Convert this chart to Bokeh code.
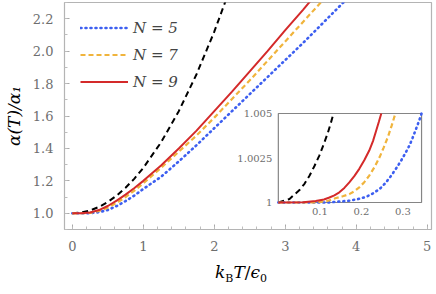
from bokeh.plotting import figure
from bokeh.models import (FixedTicker, Legend, LegendItem, Range1d, Div,
                          CustomJSTickFormatter)
from bokeh.core.properties import value
from bokeh.layouts import column
from bokeh.embed import file_html
from bokeh.resources import INLINE

# ---------------- data ----------------
T_main = [0, 0.125, 0.25, 0.375, 0.5, 0.625, 0.75, 0.875, 1.0, 1.25, 1.5,
          1.75, 2.0, 2.25, 2.5, 2.75, 3.0, 3.25, 3.5, 3.75, 4.0]
v_black = [1.0, 1.0044, 1.0175, 1.039, 1.07, 1.109, 1.1575, 1.214, 1.28,
           1.4375, 1.63, 1.8575, 2.12, 2.4175]
v_N9 = [1.0, 1.0003, 1.0052, 1.02, 1.045, 1.078, 1.115, 1.156, 1.20, 1.295,
        1.40, 1.51, 1.63, 1.75, 1.875, 2.00, 2.13, 2.255, 2.385]
v_N7 = [1.0, 1.0001, 1.0029, 1.014, 1.035, 1.064, 1.10, 1.14, 1.185, 1.28,
        1.38, 1.48, 1.59, 1.705, 1.82, 1.94, 2.06, 2.18, 2.30, 2.42]
v_N5 = [1.0, 1.0, 1.0009, 1.007, 1.02, 1.045, 1.075, 1.11, 1.15, 1.225, 1.32,
        1.42, 1.525, 1.63, 1.735, 1.84, 1.945, 2.05, 2.16, 2.27, 2.38]

# inset (low temperature)
Ti_black = [0, 0.027, 0.051, 0.063, 0.075, 0.087, 0.099, 0.109, 0.119, 0.126,
            0.133]
vi_black = [1.0, 1.0002, 1.0007, 1.00105, 1.0015, 1.00205, 1.00265, 1.00325,
            1.0039, 1.00443, 1.005]
Ti_N9 = [0, 0.06, 0.09, 0.11, 0.123, 0.135, 0.147, 0.159, 0.171, 0.183, 0.195,
         0.207, 0.219, 0.228, 0.236, 0.242, 0.248]
vi_N9 = [1.0, 1.00002, 1.00008, 1.00017, 1.00028, 1.0004, 1.00057, 1.00082,
         1.00113, 1.00148, 1.00189, 1.00237, 1.00292, 1.00345, 1.00406,
         1.00452, 1.005]
Ti_N7 = [0, 0.09, 0.12, 0.139, 0.155, 0.171, 0.183, 0.195, 0.207, 0.219,
         0.232, 0.244, 0.254, 0.264, 0.273, 0.282]
vi_N7 = [1.0, 1.0, 1.0001, 1.00025, 1.00035, 1.00047, 1.00063, 1.00085,
         1.00114, 1.00151, 1.002, 1.00255, 1.0031, 1.00368, 1.00432, 1.005]
Ti_N5 = [0, 0.12, 0.171, 0.192, 0.212, 0.228, 0.244, 0.258, 0.272, 0.284,
         0.296, 0.306, 0.316, 0.324, 0.332, 0.339, 0.345]
vi_N5 = [1.0, 1.0, 1.0001, 1.00019, 1.00032, 1.00051, 1.00076, 1.00109,
         1.00151, 1.00192, 1.00236, 1.00277, 1.00321, 1.00366, 1.00415,
         1.00458, 1.005]

legend_labels = ["N = 5", "N = 7", "N = 9"]

x_ticks = [0, 1, 2, 3, 4, 5]
x_tick_labels = ["0", "1", "2", "3", "4", "5"]
y_ticks = [1.0, 1.2, 1.4, 1.6, 1.8, 2.0, 2.2]
y_tick_labels = ["1.0", "1.2", "1.4", "1.6", "1.8", "2.0", "2.2"]
x_minor = [round(0.2 * i, 3) for i in range(0, 26)]
y_minor = [round(0.9 + 0.1 * i, 3) for i in range(0, 15)]

inset_x_range = (0.0, 0.345)
inset_y_range = (1.0, 1.005)
xi_ticks = [0.1, 0.2, 0.3]
xi_tick_labels = ["0.1", "0.2", "0.3"]
yi_ticks = [1.0, 1.0025, 1.005]
yi_tick_labels = ["1", "1.0025", "1.005"]

# ---------------- styles / layout ----------------
FONT = "DejaVu Serif"
TICK_TEXT = "#6e6e6e"
FRAME = "#b4b4b4"
BLUE = "#3d5ff0"
ORANGE = "#f0b43c"
RED = "#d42a2a"

W, H = 436, 262
BL, BR, BT, BB = 62, 5, 2, 33
FRAME_W, FRAME_H = W - BL - BR, H - BT - BB
# inset box inside the frame, in pixels (left, right, top, bottom)
IN_L, IN_R, IN_T, IN_B = 215, 359, 111, 200

FMT_CODE = """
const i = tv.findIndex(t => Math.abs(t - tick) < 1e-9);
return i >= 0 ? labels[i] : "";
"""


def fmt(ticks, labels):
    return CustomJSTickFormatter(args=dict(tv=ticks, labels=labels), code=FMT_CODE)


p = figure(width=W, height=H, x_range=Range1d(-0.11, 5.06),
           y_range=Range1d(0.9, 2.3), output_backend="svg",
           toolbar_location=None, min_border_left=BL, min_border_right=BR,
           min_border_top=BT, min_border_bottom=BB)
p.grid.visible = False
p.outline_line_color = FRAME
p.outline_line_width = 1.2
p.background_fill_color = "white"
p.border_fill_color = "white"

for ax, ticks, labels, minor in ((p.xaxis[0], x_ticks, x_tick_labels, x_minor),
                                 (p.yaxis[0], y_ticks, y_tick_labels, y_minor)):
    ax.ticker = FixedTicker(ticks=ticks, minor_ticks=minor)
    ax.formatter = fmt(ticks, labels)
    ax.axis_line_color = None
    ax.major_tick_in = 5
    ax.major_tick_out = 0
    ax.minor_tick_in = 3
    ax.minor_tick_out = 0
    ax.major_tick_line_color = "#a8a8a8"
    ax.minor_tick_line_color = "#bdbdbd"
    ax.major_label_text_font = FONT
    ax.major_label_text_font_size = "13px"
    ax.major_label_text_color = TICK_TEXT

p.xaxis.major_label_standoff = 11
p.yaxis.major_label_standoff = 11
p.yaxis.axis_label = "α(T)/α₁"
p.yaxis.axis_label_text_font = FONT
p.yaxis.axis_label_text_font_style = "italic"
p.yaxis.axis_label_text_font_size = "17px"
p.yaxis.axis_label_text_color = "black"
p.yaxis.axis_label_standoff = 6

# curves
p.line(T_main[:len(v_black)], v_black, line_color="black", line_width=2,
       line_dash="6 4")
r5 = p.line(T_main[:len(v_N5)], v_N5, line_color=BLUE, line_width=2.6,
            line_dash="1 4", line_cap="round")
r7 = p.line(T_main[:len(v_N7)], v_N7, line_color=ORANGE, line_width=2.2,
            line_dash="5 3")
r9 = p.line(T_main[:len(v_N9)], v_N9, line_color=RED, line_width=2)

legend = Legend(items=[LegendItem(label=legend_labels[0], renderers=[r5]),
                       LegendItem(label=legend_labels[1], renderers=[r7]),
                       LegendItem(label=legend_labels[2], renderers=[r9])],
                location=(16, 137), padding=0, margin=0, spacing=6,
                glyph_width=48, glyph_height=21, label_height=21,
                label_standoff=5, background_fill_alpha=0,
                border_line_alpha=0, label_text_font=FONT,
                label_text_font_style="italic", label_text_font_size="15px")
p.add_layout(legend)

# ---------------- inset (extra ranges mapped onto the inset box) ----------------
sx = (IN_R - IN_L) / (inset_x_range[1] - inset_x_range[0])
sy = (IN_B - IN_T) / (inset_y_range[1] - inset_y_range[0])
p.extra_x_ranges = {"ix": Range1d(inset_x_range[0] - IN_L / sx,
                                  inset_x_range[1] + (FRAME_W - IN_R) / sx)}
p.extra_y_ranges = {"iy": Range1d(inset_y_range[0] - (FRAME_H - IN_B) / sy,
                                  inset_y_range[1] + IN_T / sy)}
ins = dict(x_range_name="ix", y_range_name="iy")

p.quad(left=[inset_x_range[0]], right=[inset_x_range[1]],
       bottom=[inset_y_range[0]], top=[inset_y_range[1]],
       fill_color="white", line_color="#858585", line_width=1.2, **ins)
p.text(x=xi_ticks, y=[inset_y_range[0]] * len(xi_ticks), text=xi_tick_labels,
       text_align="center", text_baseline="top", y_offset=5,
       text_font=value(FONT), text_font_size="10px", text_color=TICK_TEXT,
       **ins)
p.text(x=[inset_x_range[0]] * len(yi_ticks), y=yi_ticks, text=yi_tick_labels,
       text_align="right", text_baseline="middle", x_offset=-6,
       text_font=value(FONT), text_font_size="10px", text_color=TICK_TEXT,
       **ins)

p.line(Ti_black, vi_black, line_color="black", line_width=2, line_dash="6 4",
       **ins)
p.line(Ti_N5, vi_N5, line_color=BLUE, line_width=2.6, line_dash="1 4",
       line_cap="round", **ins)
p.line(Ti_N7, vi_N7, line_color=ORANGE, line_width=2.2, line_dash="5 3", **ins)
p.line(Ti_N9, vi_N9, line_color=RED, line_width=2, **ins)

# ---------------- x-axis label with real subscripts ----------------
xlabel = Div(
    text=('<div style="padding-left:215px; font-family:\'DejaVu Serif\'; '
          'font-size:17px; line-height:20px; '
          'color:black; white-space:nowrap;">'
          '<i>k</i><span style="font-size:11px; position:relative; top:4px;">B</span>'
          '<i>T</i>/<i>ϵ</i><span style="font-size:11px; position:relative; top:4px;">0</span>'
          '</div>'),
    width=W, height=30, margin=0)

layout = column(p, xlabel, spacing=0)
open("out.html", "w").write(file_html(layout, INLINE))
